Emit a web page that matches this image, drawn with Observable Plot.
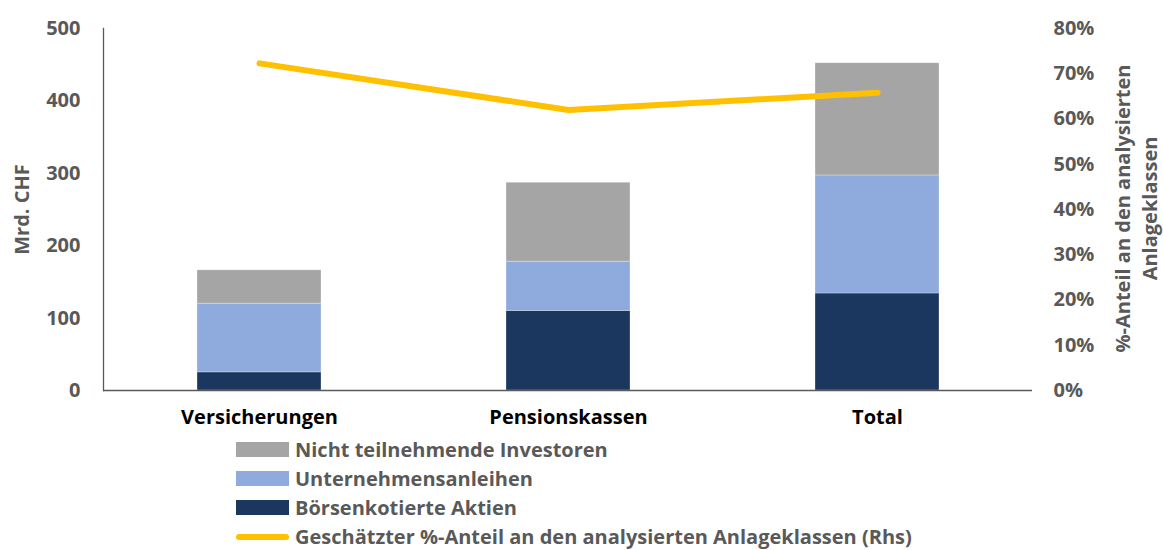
<!DOCTYPE html>
<html>
<head>
<meta charset="utf-8">
<script src="https://cdn.jsdelivr.net/npm/d3@7"></script>
<script src="https://cdn.jsdelivr.net/npm/@observablehq/plot@0.6"></script>
<style>
  body { margin: 0; background: #fff; font-family: "Open Sans", Lato, sans-serif; }
  #legend { margin-left: 236px; }
  .row { display: flex; align-items: center; height: 29px; font-weight: bold; font-size: 20px; color: #595959; }
  .sw { width: 53px; height: 15px; margin-right: 6px; }
  .ln { width: 53px; height: 6px; border-radius: 3px; margin-right: 6px; }
</style>
</head>
<body>
<div id="chart"></div>
<div id="legend"></div>
<script>
const categories = ["Versicherungen", "Pensionskassen", "Total"];
const seriesNames = ["Börsenkotierte Aktien", "Unternehmensanleihen", "Nicht teilnehmende Investoren"];
const seriesColors = ["#1B365F", "#8FAADC", "#A5A5A5"];
const aktien = [25, 110, 134];
const anleihen = [95, 68, 163];
const nichtTeilnehmend = [46, 109, 155];
const anteil = [0.723, 0.620, 0.658];
const lineName = "Geschätzter %-Anteil an den analysierten Anlageklassen (Rhs)";
const lineColor = "#FFC000";
const leftTicks = [0, 100, 200, 300, 400, 500];
const rightTicks = [0, 0.1, 0.2, 0.3, 0.4, 0.5, 0.6, 0.7, 0.8];

const yMax = 500, pMax = 0.8, k = yMax / pMax;
const seriesValues = [aktien, anleihen, nichtTeilnehmend];
const bars = [];
seriesNames.forEach((s, i) => categories.forEach((c, j) => bars.push({cat: c, series: s, value: seriesValues[i][j]})));
const lineData = categories.map((c, j) => ({cat: c, pct: anteil[j]}));

const grey = "#595959";
const chart = Plot.plot({
  width: 1163, height: 435,
  marginLeft: 103, marginRight: 131, marginTop: 28, marginBottom: 45,
  style: {fontFamily: "'Open Sans', Lato, sans-serif", fontSize: "20px", fontWeight: "bold", background: "#fff"},
  x: {domain: categories, paddingInner: 0.6, paddingOuter: 0.3, axis: null},
  y: {domain: [0, yMax], axis: null},
  color: {domain: seriesNames, range: seriesColors},
  marks: [
    Plot.barY(bars, {x: "cat", y: "value", fill: "series", stroke: "#ffffff", strokeWidth: 0.6, strokeOpacity: 0.5}),
    Plot.ruleY([0], {stroke: grey, strokeWidth: 1.3}),
    Plot.frame({anchor: "left", stroke: grey, strokeWidth: 1.3}),
    Plot.line(lineData, {x: "cat", y: d => d.pct * k, stroke: lineColor, strokeWidth: 6, strokeLinecap: "round", strokeLinejoin: "round"}),
    Plot.axisX({tickSize: 0, tickPadding: 19, fill: "#000", label: null}),
    Plot.axisY(leftTicks, {anchor: "left", tickSize: 0, tickPadding: 23, fill: grey, label: null}),
    Plot.axisY(rightTicks.map(p => p * k), {anchor: "right", tickSize: 0, tickPadding: 21, fill: grey, label: null,
      tickFormat: v => Math.round(v / k * 100) + "%"}),
    Plot.text(["Mrd. CHF"], {frameAnchor: "left", textAnchor: "middle", rotate: -90, dx: -81, fill: grey, fontSize: 20}),
    Plot.text(["%-Anteil an den analysierten\nAnlageklassen"], {frameAnchor: "right", textAnchor: "middle", rotate: -90, dx: 102, dy: -1, fill: grey, fontSize: 20, lineHeight: 1.35})
  ]
});
document.getElementById("chart").appendChild(chart);

const legend = document.getElementById("legend");
const items = seriesNames.map((s, i) => ({name: s, color: seriesColors[i], type: "sw"})).reverse();
items.push({name: lineName, color: lineColor, type: "ln"});
for (const it of items) {
  const row = document.createElement("div");
  row.className = "row";
  const sw = document.createElement("div");
  sw.className = it.type;
  sw.style.background = it.color;
  const t = document.createElement("span");
  t.textContent = it.name;
  row.appendChild(sw); row.appendChild(t);
  legend.appendChild(row);
}
</script>
</body>
</html>
